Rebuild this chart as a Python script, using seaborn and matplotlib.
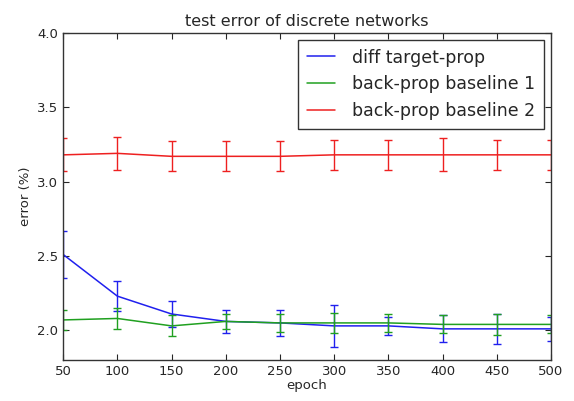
import matplotlib
matplotlib.use("Agg")
import matplotlib.pyplot as plt
import seaborn as sns
import pandas as pd

epochs = [50, 100, 150, 200, 250, 300, 350, 400, 450, 500]
diff_tp = [2.51, 2.23, 2.11, 2.06, 2.05, 2.03, 2.03, 2.01, 2.01, 2.01]
diff_tp_err = [0.16, 0.10, 0.09, 0.08, 0.09, 0.14, 0.06, 0.09, 0.10, 0.08]
bp1 = [2.07, 2.08, 2.03, 2.06, 2.05, 2.05, 2.05, 2.04, 2.04, 2.04]
bp1_err = [0.07, 0.07, 0.07, 0.05, 0.06, 0.07, 0.06, 0.06, 0.07, 0.06]
bp2 = [3.18, 3.19, 3.17, 3.17, 3.17, 3.18, 3.18, 3.18, 3.18, 3.18]
bp2_err = [0.11, 0.11, 0.10, 0.10, 0.10, 0.10, 0.10, 0.11, 0.10, 0.10]

names = ["diff target-prop", "back-prop baseline 1", "back-prop baseline 2"]
colors = ["#2020ee", "#20a020", "#ee2020"]

sns.set_style("ticks")
plt.rcParams['font.family'] = ['DejaVu Sans']

fig = plt.figure(figsize=(5.74, 4.01), dpi=100)
ax = fig.add_axes([0.11, 0.102, 0.85, 0.816])

df = pd.DataFrame({
    "epoch": epochs * 3,
    "error": diff_tp + bp1 + bp2,
    "err": diff_tp_err + bp1_err + bp2_err,
    "series": sum([[n] * len(epochs) for n in names], []),
})

sns.lineplot(data=df, x="epoch", y="error", hue="series", palette=colors,
             ax=ax, linewidth=1.1, legend=True)
for n, c in zip(names, colors):
    sub = df[df.series == n]
    ax.errorbar(sub.epoch, sub.error, yerr=sub.err, fmt="none", ecolor=c,
                elinewidth=1.0, capsize=3, capthick=1.0)

ax.set_xlim(50, 500)
ax.set_ylim(1.8, 4.0)
ax.set_xticks(epochs)
ax.set_yticks([2.0, 2.5, 3.0, 3.5, 4.0])
ax.set_xlabel("epoch", fontsize=9.5, labelpad=1)
ax.set_ylabel("error (%)", fontsize=9.5)
ax.set_title("test error of discrete networks", fontsize=11.5, pad=5)
ax.tick_params(direction="in", labelsize=9.5, top=True, right=True, length=4)
for s in ax.spines.values():
    s.set_color("#333333")
    s.set_linewidth(1.0)

handles, labels = ax.get_legend_handles_labels()
leg = ax.legend(handles[:3], names, loc="upper right", fontsize=12.5,
                frameon=True, fancybox=False, edgecolor="black",
                borderaxespad=0.4, handlelength=1.6, handletextpad=1.0,
                labelspacing=0.5, borderpad=0.5)
leg.get_frame().set_linewidth(1.0)

fig.savefig("out.png", dpi=100)
